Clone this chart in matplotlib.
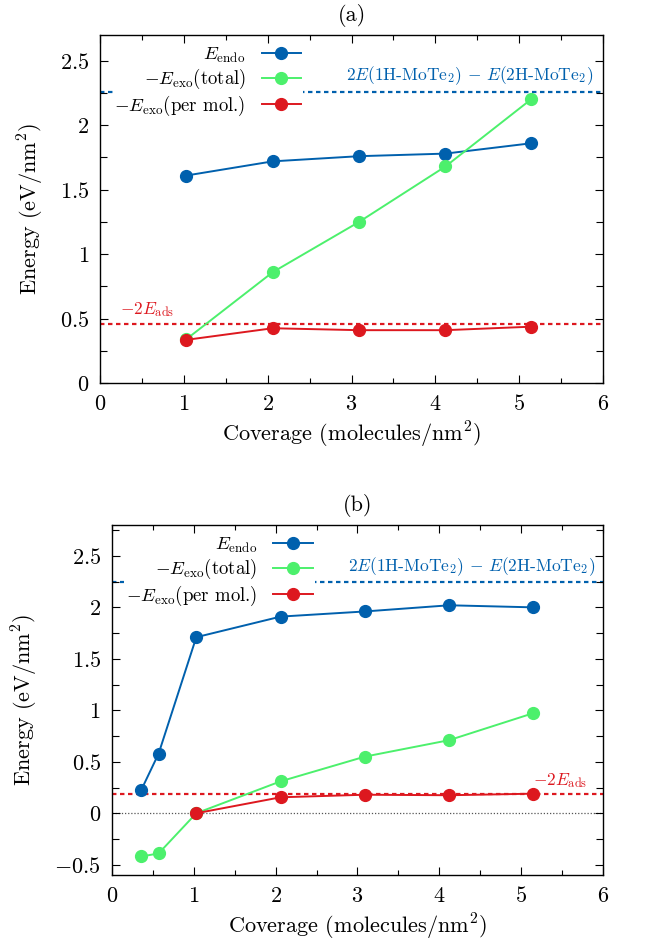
import numpy as np
import matplotlib
matplotlib.use("Agg")
import matplotlib.pyplot as plt
from matplotlib.ticker import MultipleLocator, FuncFormatter

plt.rcParams['font.family'] = ['cmr10']
plt.rcParams['mathtext.fontset'] = 'cm'
plt.rcParams['axes.unicode_minus'] = False
plt.rcParams['font.size'] = 16

BLUE = '#0060ad'
GREEN = '#4cf06c'
RED = '#dd181f'

# panel (a)
cov_a = [1.03, 2.06, 3.09, 4.12, 5.14]
endo_a = [1.61, 1.72, 1.76, 1.78, 1.86]
exo_tot_a = [0.34, 0.86, 1.25, 1.68, 2.20]
exo_mol_a = [0.335, 0.425, 0.41, 0.41, 0.437]
ref_phase_a = 2.26
ref_ads_a = 0.456

# panel (b)
cov_b = [0.36, 0.57, 1.03, 2.06, 3.09, 4.12, 5.14]
endo_b = [0.23, 0.58, 1.71, 1.91, 1.96, 2.02, 2.00]
exo_tot_b = [-0.42, -0.39, 0.0, 0.31, 0.55, 0.71, 0.97]
cov_b_mol = [1.03, 2.06, 3.09, 4.12, 5.14]
exo_mol_b = [0.0, 0.155, 0.18, 0.175, 0.19]
ref_phase_b = 2.25
ref_ads_b = 0.19

labels = [r'$E_{\rm endo}$', r'$-E_{\rm exo}$(total)', r'$-E_{\rm exo}$(per mol.)']
phase_txt = r'$2E$(1H-MoTe$_2$) $-$ $E$(2H-MoTe$_2$)'
ads_txt = r'$-2E_{\rm ads}$'

fig = plt.figure(figsize=(6.47, 9.42), dpi=100)
ax_a = fig.add_axes([0.1546, 0.5934, 0.932 - 0.1546, 0.9628 - 0.5934])
ax_b = fig.add_axes([0.1731, 0.0711, 0.932 - 0.1731, 0.4427 - 0.0711])

fmt = FuncFormatter(lambda v, p: '$%g$' % round(v, 3))


def setup(ax, ylim, title):
    ax.set_xlim(0, 6)
    ax.set_ylim(*ylim)
    ax.xaxis.set_major_locator(MultipleLocator(1))
    ax.xaxis.set_minor_locator(MultipleLocator(0.5))
    ax.yaxis.set_major_locator(MultipleLocator(0.5))
    ax.yaxis.set_minor_locator(MultipleLocator(0.25))
    ax.xaxis.set_major_formatter(fmt)
    ax.yaxis.set_major_formatter(fmt)
    ax.tick_params(which='both', direction='in', top=True, right=True, labelsize=16)
    ax.tick_params(which='major', length=6, width=0.8, pad=8)
    ax.tick_params(axis='x', which='minor', length=3.5, width=0.8)
    ax.tick_params(axis='y', which='minor', length=5, width=0.8)
    for s in ax.spines.values():
        s.set_linewidth(1.0)
    ax.set_xlabel('Coverage (molecules/nm$^2$)', fontsize=16, labelpad=4)
    ax.set_ylabel('Energy (eV/nm$^2$)', fontsize=16, labelpad=10)
    ax.set_title(title, fontsize=16, pad=10)


def draw(ax, cov, endo, cov_t, tot, cov_m, mol, ref_phase, ref_ads):
    ms = 8.5
    ax.axhline(ref_phase, color=BLUE, lw=1.6, ls=(0, (2, 1.6)), zorder=1)
    ax.axhline(ref_ads, color=RED, lw=1.6, ls=(0, (2, 1.6)), zorder=1)
    ax.plot(cov, endo, '-o', color=BLUE, lw=1.4, ms=ms, label=labels[0], zorder=3)
    ax.plot(cov_t, tot, '-o', color=GREEN, lw=1.4, ms=ms, label=labels[1], zorder=3)
    ax.plot(cov_m, mol, '-o', color=RED, lw=1.4, ms=ms, label=labels[2], zorder=4)
    leg = ax.legend(loc='upper left', bbox_to_anchor=(0.025, 0.975), markerfirst=False,
                    frameon=True, framealpha=1, facecolor='white', edgecolor='none',
                    fancybox=False, fontsize=13.5, handlelength=2.1, handletextpad=0.85,
                    labelspacing=0.12, borderpad=0.1, borderaxespad=0.0)
    leg.set_zorder(5)
    for t in leg.get_texts():
        t.set_ha('right')
    leg._legend_box.align = 'right'


setup(ax_a, (0, 2.7), '(a)')
draw(ax_a, cov_a, endo_a, cov_a, exo_tot_a, cov_a, exo_mol_a, ref_phase_a, ref_ads_a)
ax_a.text(5.88, ref_phase_a + 0.035, phase_txt, color=BLUE, fontsize=12.5, ha='right', va='bottom')
ax_a.text(0.24, ref_ads_a + 0.04, ads_txt, color=RED, fontsize=12.5, ha='left', va='bottom')

setup(ax_b, (-0.6, 2.8), '(b)')
ax_b.axhline(0, color='#555555', lw=0.9, ls=(0, (1, 1.5)), zorder=1)
draw(ax_b, cov_b, endo_b, cov_b, exo_tot_b, cov_b_mol, exo_mol_b, ref_phase_b, ref_ads_b)
ax_b.text(5.91, ref_phase_b + 0.035, phase_txt, color=BLUE, fontsize=12.5, ha='right', va='bottom')
ax_b.text(5.81, ref_ads_b + 0.04, ads_txt, color=RED, fontsize=12.5, ha='right', va='bottom')

fig.savefig('out.png', dpi=100)
